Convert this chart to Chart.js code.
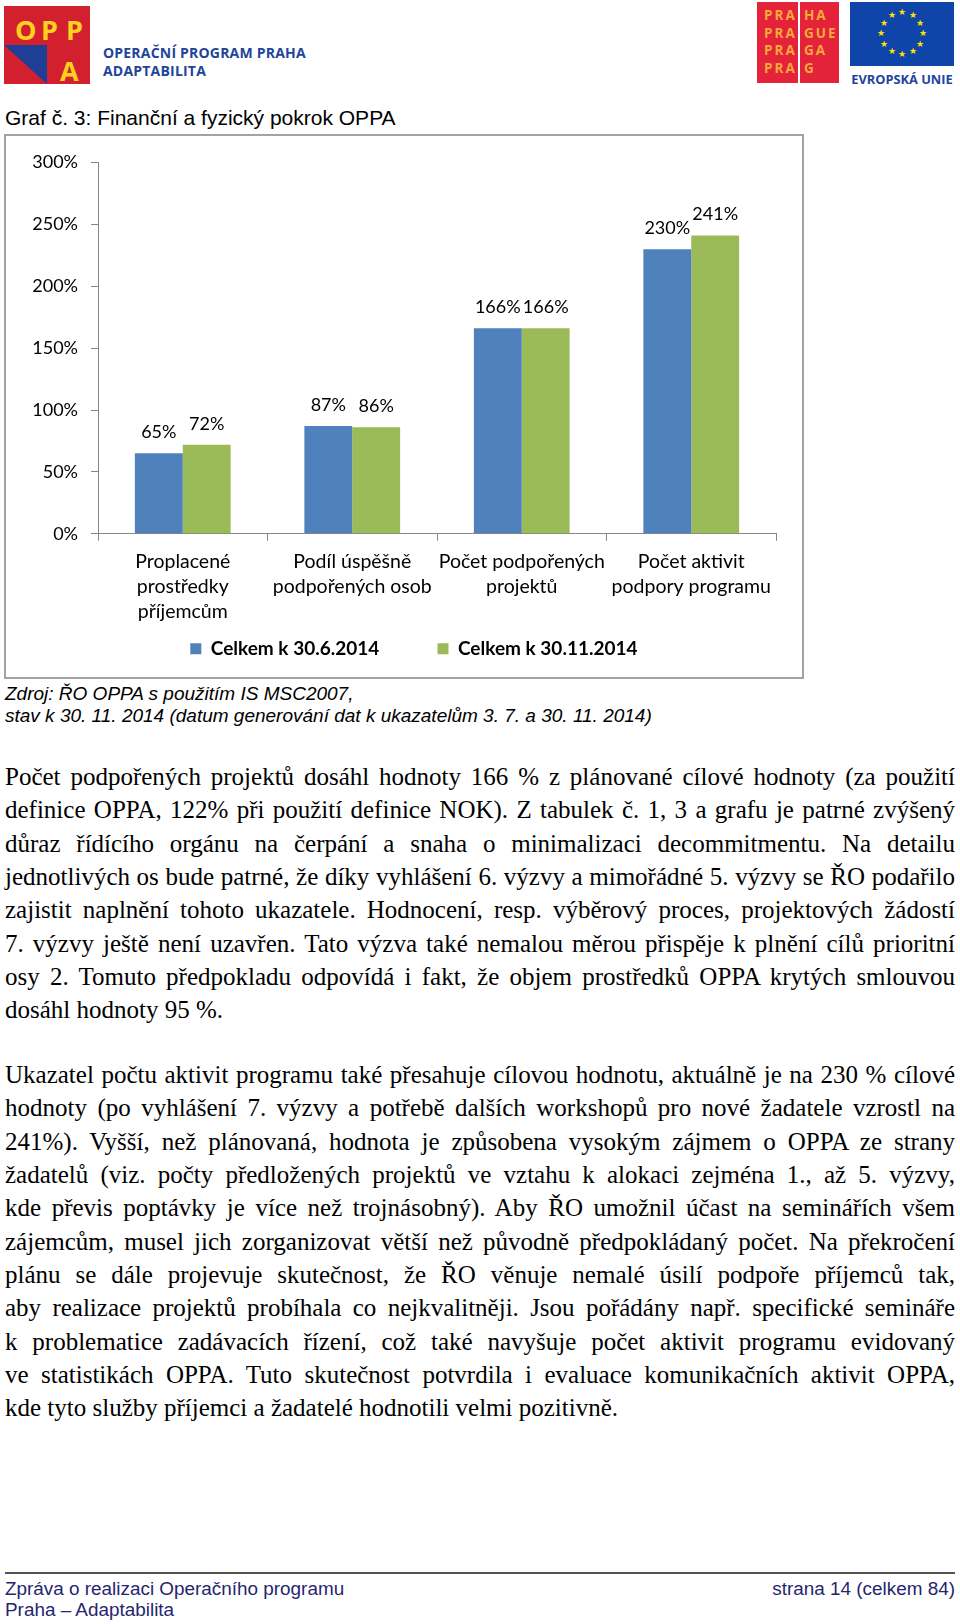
<!DOCTYPE html>
<html lang="cs">
<head>
<meta charset="utf-8">
<title>Graf č. 3: Finanční a fyzický pokrok OPPA</title>
<script src="https://cdn.jsdelivr.net/npm/chart.js@4.4.1/dist/chart.umd.min.js"></script>
<style>
  html, body { margin: 0; padding: 0; background: #fff; }
  body { width: 960px; height: 1624px; position: relative; overflow: hidden;
         font-family: "Liberation Sans", Arial, sans-serif; color: #000; }
  .abs { position: absolute; }

  /* header logos */
  #oppa { left: 4px; top: 6px; width: 86px; height: 78px; background: #d3202f; overflow: hidden; }
  #oppa .tri { left: 0; top: 39px; width: 43px; height: 39px; background: #1e3f95;
               clip-path: polygon(0 0, 100% 0, 100% 100%); }
  #oppa .let { color: #ffd21f; font: bold 27px "Open Sans", sans-serif; line-height: 1; }
  .oppa-name { left: 103px; font: bold 14px "Open Sans", sans-serif; color: #21449b; letter-spacing: 0.2px; }

  #praha { left: 757px; top: 2px; width: 82px; height: 81px; background: #e4233b; }
  #praha .sep { left: 41px; top: 0; width: 2px; height: 81px; background: #fff; }
  #praha .col { top: 5px; font: bold 13.5px "Open Sans", sans-serif; line-height: 17.5px;
                color: #f7a93b; letter-spacing: 2px; }

  #eu { left: 850px; top: 2px; width: 104px; height: 64px; background: #0f45a8; }
  #eu span { position: absolute; color: #ffe000; font-size: 9px; line-height: 9px; width: 10px;
             text-align: center; margin-left: -5px; margin-top: -5px; }
  .eu-name { left: 850px; top: 70px; width: 104px; text-align: center;
             font: bold 12.8px "Open Sans", sans-serif; color: #21449b; }

  .caption { left: 5px; top: 106px; font-size: 21px; }

  #box { left: 4px; top: 134px; width: 800px; height: 545px; border: 2px solid #a3a3a3;
         box-sizing: border-box; background: #fff; }
  #box canvas { display: block; }

  .source { left: 5px; font-style: italic; font-size: 19px; line-height: 22px; }

  .para { left: 5px; width: 950px; font-family: "Liberation Serif", "Times New Roman", serif;
          font-size: 25px; line-height: 33.35px; }
  .para div { text-align: justify; text-align-last: justify; }
  .para div.last { text-align-last: left; }

  .rule { left: 5px; top: 1572px; width: 950px; height: 2px; background: #555; }
  .foot { font-family: "Liberation Sans", sans-serif; font-size: 18.9px;
          color: #26266e; line-height: 21px; }
</style>
</head>
<body>

<!-- header -->
<div id="oppa" class="abs">
  <div class="abs tri"></div>
  <div class="abs let" style="left:11px;top:10px;">O</div>
  <div class="abs let" style="left:37px;top:10px;">P</div>
  <div class="abs let" style="left:62px;top:10px;">P</div>
  <div class="abs let" style="left:56px;top:51px;">A</div>
</div>
<div class="abs oppa-name" style="top:43px;">OPERAČNÍ PROGRAM PRAHA</div>
<div class="abs oppa-name" style="top:61px;">ADAPTABILITA</div>

<div id="praha" class="abs">
  <div class="abs sep"></div>
  <div class="abs col" style="left:7px;">PRA<br>PRA<br>PRA<br>PRA</div>
  <div class="abs col" style="left:47px;">HA<br>GUE<br>GA<br>G</div>
</div>

<div id="eu" class="abs"></div>
<div class="abs eu-name">EVROPSKÁ UNIE</div>

<div class="abs caption">Graf č. 3: Finanční a fyzický pokrok OPPA</div>

<div id="box" class="abs">
  <canvas id="progressChart" width="796" height="541"></canvas>
</div>

<div class="abs source" style="top:683px;">Zdroj: ŘO OPPA s použitím IS MSC2007,</div>
<div class="abs source" style="top:705px;">stav k 30. 11. 2014 (datum generování dat k ukazatelům 3. 7. a 30. 11. 2014)</div>

<div class="abs para" style="top:760px;">
  <div>Počet podpořených projektů dosáhl hodnoty 166 % z plánované cílové hodnoty (za použití</div>
  <div>definice OPPA, 122% při použití definice NOK). Z tabulek č. 1, 3 a grafu je patrné zvýšený</div>
  <div>důraz řídícího orgánu na čerpání a snaha o minimalizaci decommitmentu. Na detailu</div>
  <div>jednotlivých os bude patrné, že díky vyhlášení 6. výzvy a mimořádné 5. výzvy se ŘO podařilo</div>
  <div>zajistit naplnění tohoto ukazatele. Hodnocení, resp. výběrový proces, projektových žádostí</div>
  <div>7. výzvy ještě není uzavřen. Tato výzva také nemalou měrou přispěje k plnění cílů prioritní</div>
  <div>osy 2. Tomuto předpokladu odpovídá i fakt, že objem prostředků OPPA krytých smlouvou</div>
  <div class="last">dosáhl hodnoty 95 %.</div>
</div>

<div class="abs para" style="top:1058px;">
  <div>Ukazatel počtu aktivit programu také přesahuje cílovou hodnotu, aktuálně je na 230 % cílové</div>
  <div>hodnoty (po vyhlášení 7. výzvy a potřebě dalších workshopů pro nové žadatele vzrostl na</div>
  <div>241%). Vyšší, než plánovaná, hodnota je způsobena vysokým zájmem o OPPA ze strany</div>
  <div>žadatelů (viz. počty předložených projektů ve vztahu k alokaci zejména 1., až 5. výzvy,</div>
  <div>kde převis poptávky je více než trojnásobný). Aby ŘO umožnil účast na seminářích všem</div>
  <div>zájemcům, musel jich zorganizovat větší než původně předpokládaný počet. Na překročení</div>
  <div>plánu se dále projevuje skutečnost, že ŘO věnuje nemalé úsilí podpoře příjemců tak,</div>
  <div>aby realizace projektů probíhala co nejkvalitněji. Jsou pořádány např. specifické semináře</div>
  <div>k problematice zadávacích řízení, což také navyšuje počet aktivit programu evidovaný</div>
  <div>ve statistikách OPPA. Tuto skutečnost potvrdila i evaluace komunikačních aktivit OPPA,</div>
  <div class="last">kde tyto služby příjemci a žadatelé hodnotili velmi pozitivně.</div>
</div>

<div class="abs rule"></div>
<div class="abs foot" style="left:5px;top:1578px;">Zpráva o realizaci Operačního programu<br>Praha – Adaptabilita</div>
<div class="abs foot" style="right:5px;top:1578px;">strana 14 (celkem 84)</div>

<script>
// EU flag stars
const eu = document.getElementById('eu');
for (let i = 0; i < 12; i++) {
  const a = i * Math.PI / 6;
  const s = document.createElement('span');
  s.textContent = '★';
  s.style.left = (52 + 21 * Math.sin(a)) + 'px';
  s.style.top = (32 - 21 * Math.cos(a)) + 'px';
  eu.appendChild(s);
}

// chart data
const categories = [
  ['Proplacené', 'prostředky', 'příjemcům'],
  ['Podíl úspěšně', 'podpořených osob'],
  ['Počet podpořených', 'projektů'],
  ['Počet aktivit', 'podpory programu']
];
const seriesNames = ['Celkem k 30.6.2014', 'Celkem k 30.11.2014'];
const valuesJune = [65, 87, 166, 230];
const valuesNov = [72, 86, 166, 241];
const yTicks = [0, 50, 100, 150, 200, 250, 300];

const axisColor = '#868686';
const chartFont = 'Lato';
// trailing blanks after each legend entry, to space the legend like the original
const legendTrail = [11, 10];

// value labels above bars
const valueLabels = {
  id: 'valueLabels',
  afterDatasetsDraw(chart) {
    const c = chart.ctx;
    c.save();
    c.font = '18px ' + chartFont;
    c.fillStyle = '#000';
    c.textAlign = 'center';
    c.textBaseline = 'middle';
    chart.data.datasets.forEach((ds, i) => {
      chart.getDatasetMeta(i).data.forEach((bar, j) => {
        c.fillText(ds.data[j] + '%', bar.x, bar.y - 21);
      });
    });
    c.restore();
  }
};

new Chart(document.getElementById('progressChart'), {
  type: 'bar',
  data: {
    labels: categories,
    datasets: [
      { label: seriesNames[0], data: valuesJune, backgroundColor: '#4f81bd' },
      { label: seriesNames[1], data: valuesNov, backgroundColor: '#9bbb59' }
    ]
  },
  options: {
    responsive: false,
    animation: false,
    devicePixelRatio: 1,
    categoryPercentage: 0.565,
    barPercentage: 1,
    layout: { padding: { left: 0, right: 26, top: 26.5, bottom: 8.8 } },
    plugins: {
      tooltip: { enabled: false },
      legend: {
        position: 'bottom',
        fullSize: false,
        labels: {
          boxWidth: 11,
          boxHeight: 11,
          padding: 7.4,
          color: '#000',
          font: { family: chartFont, size: 19, weight: 'bold' },
          generateLabels: (chart) =>
            Chart.defaults.plugins.legend.labels.generateLabels(chart)
              .map((item, i) => ({ ...item, text: item.text + ' '.repeat(legendTrail[i]) }))
        }
      }
    },
    scales: {
      x: {
        grid: { drawOnChartArea: false, tickLength: 7, color: axisColor },
        border: { color: axisColor },
        ticks: {
          color: '#000',
          padding: 8,
          maxRotation: 0,
          autoSkip: false,
          font: { family: chartFont, size: 19.5, lineHeight: 25 / 19.5 }
        }
      },
      y: {
        min: 0,
        max: 300,
        afterFit: (s) => { s.width = 92; },
        afterBuildTicks: (s) => { s.ticks = yTicks.map(v => ({ value: v })); },
        grid: { drawOnChartArea: false, tickLength: 7, color: axisColor },
        border: { color: axisColor },
        ticks: {
          color: '#000',
          padding: 13,
          font: { family: chartFont, size: 18 },
          callback: (v) => v + '%'
        }
      }
    }
  },
  plugins: [valueLabels]
});
</script>
</body>
</html>
